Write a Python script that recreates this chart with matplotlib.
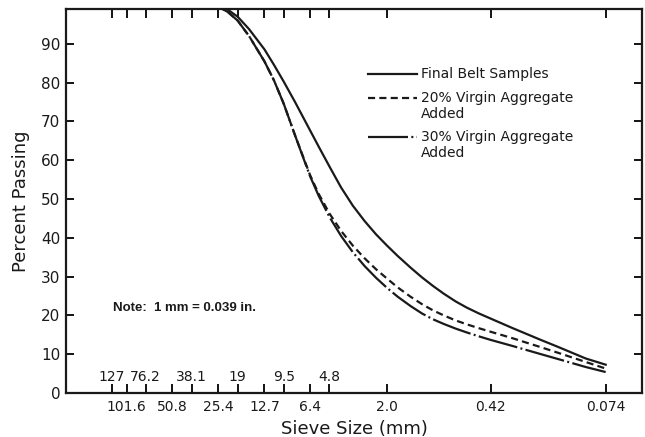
import matplotlib
matplotlib.use("Agg")
import matplotlib.pyplot as plt
from matplotlib.transforms import blended_transform_factory
from matplotlib.lines import Line2D

# ---- data ----
sieve_mm = [25.4, 22.0, 19.0, 16.0, 12.7, 11.0, 9.5, 8.0, 6.4, 5.6, 4.75, 4.0, 3.35, 2.8,
            2.36, 2.0, 1.7, 1.4, 1.18, 1.0, 0.85, 0.71, 0.6, 0.5, 0.42, 0.3, 0.25, 0.2,
            0.15, 0.1, 0.074]
final_belt = [99.6, 98.8, 97.0, 93.8, 88.6, 84.6, 80.3, 75.0, 67.8, 63.5, 58.3, 53.0, 48.3, 44.3,
              40.9, 38.0, 35.3, 32.3, 29.8, 27.6, 25.6, 23.6, 22.0, 20.5, 19.2, 16.7, 15.4, 13.8,
              11.8, 8.9, 7.3]
virgin_20 = [99.6, 98.2, 96.0, 92.0, 85.5, 80.6, 74.6, 66.4, 56.3, 51.3, 46.2, 41.8, 38.0, 34.7,
             31.9, 29.5, 27.2, 24.8, 22.9, 21.3, 20.0, 18.7, 17.7, 16.7, 15.8, 14.1, 13.1, 11.9,
             10.3, 8.0, 6.3]
virgin_30 = [99.6, 98.2, 96.0, 92.0, 85.5, 80.6, 74.6, 66.4, 56.0, 50.8, 45.3, 40.5, 36.3, 32.7,
             29.7, 27.1, 24.8, 22.4, 20.5, 19.0, 17.8, 16.6, 15.6, 14.6, 13.7, 12.1, 11.2, 10.1,
             8.7, 6.7, 5.4]

lower_ticks = [101.6, 50.8, 25.4, 12.7, 6.4, 2.0, 0.42, 0.074]
lower_labels = ["101.6", "50.8", "25.4", "12.7", "6.4", "2.0", "0.42", "0.074"]
upper_ticks = [127, 76.2, 38.1, 19, 9.5, 4.8]
upper_labels = ["127", "76.2", "38.1", "19", "9.5", "4.8"]
y_ticks = [0, 10, 20, 30, 40, 50, 60, 70, 80, 90]

series_labels = ["Final Belt Samples", "20% Virgin Aggregate\nAdded", "30% Virgin Aggregate\nAdded"]

plt.rcParams['font.family'] = ['DejaVu Sans']

fig = plt.figure(figsize=(6.45, 4.37), dpi=100)
ax = fig.add_axes([66/645, 1-393/437, (642-66)/645, (393-9)/437])

lw = 1.6
styles = ['-', (0, (3.2, 1.9)), (0, (18, 1.5, 0.9, 1.5))]
col = '#1a1a1a'
for vals, ls in zip([final_belt, virgin_20, virgin_30], styles):
    ax.plot(sieve_mm, vals, color=col, lw=lw, linestyle=ls, solid_joinstyle='round')

ax.set_xscale('log')
ax.set_xlim(253, 0.0428)
ax.set_ylim(0, 99)

ax.xaxis.set_minor_locator(matplotlib.ticker.NullLocator())
all_ticks = sorted(lower_ticks + upper_ticks, reverse=True)
ax.set_xticks(all_ticks)
lab_map = dict(zip(lower_ticks, lower_labels))
ax.set_xticklabels([lab_map.get(t, "") for t in all_ticks], fontsize=10, color=col)
ax.tick_params(axis='x', direction='in', length=6.5, width=1.3, top=True, bottom=True, pad=5)

ax.set_yticks(y_ticks)
ax.set_yticklabels([str(v) for v in y_ticks], fontsize=11, color=col)
ax.tick_params(axis='y', direction='in', length=6, width=1.3, left=True, right=True, pad=4)

tr = blended_transform_factory(ax.transData, ax.transAxes)
for t, lab in zip(upper_ticks, upper_labels):
    ax.text(t, 0.042, lab, transform=tr, ha='center', va='center', fontsize=10, color=col)

for s in ax.spines.values():
    s.set_linewidth(1.6)
    s.set_color(col)

ax.set_xlabel("Sieve Size (mm)", fontsize=13, color=col, labelpad=4)
ax.set_ylabel("Percent Passing", fontsize=13, color=col, labelpad=8)

ax.text(0.082, 0.221, "Note:  1 mm = 0.039 in.", transform=ax.transAxes,
        fontsize=9.5, fontweight='bold', family=['Liberation Sans', 'DejaVu Sans'],
        ha='left', va='center', color=col)

# legend drawn manually so the sample line sits on the first text line
leg_y = [(393-74)/384, (393-98)/384, (393-137)/384]
x0, x1, xt = (368-66)/576, (417-66)/576, (421-66)/576
for yy, ls, lab in zip(leg_y, styles, series_labels):
    ax.add_line(Line2D([x0, x1], [yy, yy], transform=ax.transAxes, color=col, lw=lw, linestyle=ls))
    ax.text(xt, yy + 0.018, lab, transform=ax.transAxes, fontsize=10, ha='left', va='top',
            color=col, linespacing=1.15)

fig.savefig("out.png", dpi=100)
